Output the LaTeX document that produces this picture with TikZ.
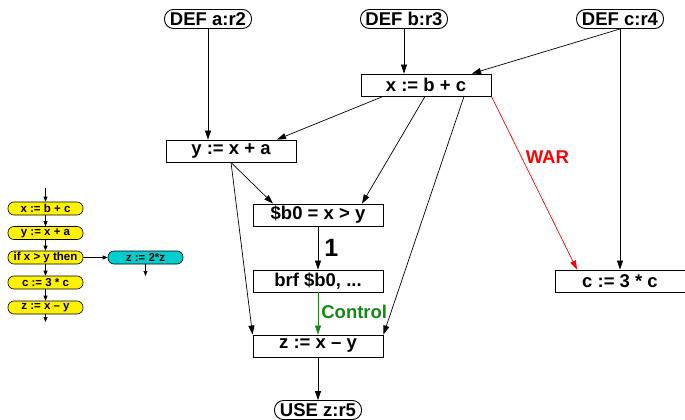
\documentclass[tikz,border=0pt]{standalone}
\usepackage{fontspec}
\setmainfont{Liberation Sans}
\usetikzlibrary{arrows.meta,calc}
\definecolor{ctlgreen}{RGB}{20,135,20}
\definecolor{pillcyan}{RGB}{0,205,205}
\tikzset{
  every node/.style={font=\fontsize{18.5}{20}\selectfont\bfseries, inner sep=0pt},
  box/.style={draw, line width=0.9pt, minimum width=130pt, minimum height=22pt},
  pill/.style={draw, line width=0.9pt, rounded corners=9pt, minimum width=87pt, minimum height=19pt},
  arr/.style={-{Triangle[length=9pt,width=6pt]}, line width=0.7pt},
  mini/.style={draw, line width=0.6pt, rounded corners=6pt, minimum width=75pt, minimum height=13pt, fill=yellow, font=\fontsize{11.5}{12}\selectfont\bfseries},
  miniarr/.style={-{Triangle[length=5pt,width=4pt]}, line width=0.6pt},
  lbl/.style={font=\fontsize{18.5}{20}\selectfont\bfseries}
}
\begin{document}
\begin{tikzpicture}[x=1pt,y=-1pt]
\useasboundingbox (0,0) rectangle (685,420);
% main graph
\node[pill] (defa) at (208,19) {DEF a:r2};
\node[pill] (defb) at (404,19) {DEF b:r3};
\node[pill] (defc) at (620,19) {DEF c:r4};
\node[box] (xbc) at (426,85) {x := b + c};
\node[box] (yxa) at (231,151) {y := x + a};
\node[box] (b0) at (318,215) {\$b0 = x > y};
\node[box] (brf) at (318,281) {brf \$b0, ...};
\node[box] (zxy) at (318,346) {z := x -- y};
\node[box] (c3c) at (620,281) {c := 3 * c};
\node[pill] (use) at (318,410) {USE z:r5};

\draw[arr] (defa.south) -- (defa.south |- yxa.north);
\draw[arr] (defb.south) -- (defb.south |- xbc.north);
\draw[arr] (defc.south) -- ([xshift=46pt]xbc.north);
\draw[arr] (defc.south) -- (c3c.north);
\draw[arr] ([xshift=-43pt]xbc.south) -- ([xshift=46pt]yxa.north);
\draw[arr] ([xshift=-1pt]xbc.south) -- ([xshift=44pt]b0.north);
\draw[arr] ([xshift=38pt]xbc.south) -- (zxy.north east);
\draw[arr, red] (xbc.south east) -- node[pos=0.35, right=4pt, lbl, text=red] {WAR} ([xshift=-43pt]c3c.north);
\draw[arr] (yxa.south) -- ([xshift=-45pt]b0.north);
\draw[arr] (yxa.south) -- (zxy.north west);
\draw[arr] (b0) -- node[right=6pt, font=\fontsize{25}{27}\selectfont\bfseries] {1} (brf);
\draw[arr, ctlgreen] (brf) -- node[pos=0.45, right=3pt, lbl, text=ctlgreen] {Control} (zxy);
\draw[arr] (zxy) -- (use);

% mini flowchart
\node[mini] (m1) at (45.5,208.5) {x := b + c};
\node[mini] (m2) at (45.5,233) {y := x + a};
\node[mini] (m3) at (45.5,257.5) {if x > y then};
\node[mini] (m4) at (45.5,282.5) {c := 3 * c};
\node[mini] (m5) at (45.5,307.5) {z := x -- y};
\node[mini, fill=pillcyan] (m6) at (145.5,257.5) {z := 2*z};
\coordinate (mtop) at (45.5,188);
\coordinate (mbot) at (45.5,322);
\coordinate (m6bot) at (145.5,276);
\draw[miniarr] (mtop) -- (m1);
\draw[miniarr] (m1) -- (m2);
\draw[miniarr] (m2) -- (m3);
\draw[miniarr] (m3) -- (m4);
\draw[miniarr] (m4) -- (m5);
\draw[miniarr] (m5) -- (mbot);
\draw[miniarr] (m3) -- (m6);
\draw[miniarr] (m6) -- (m6bot);
\end{tikzpicture}
\end{document}
